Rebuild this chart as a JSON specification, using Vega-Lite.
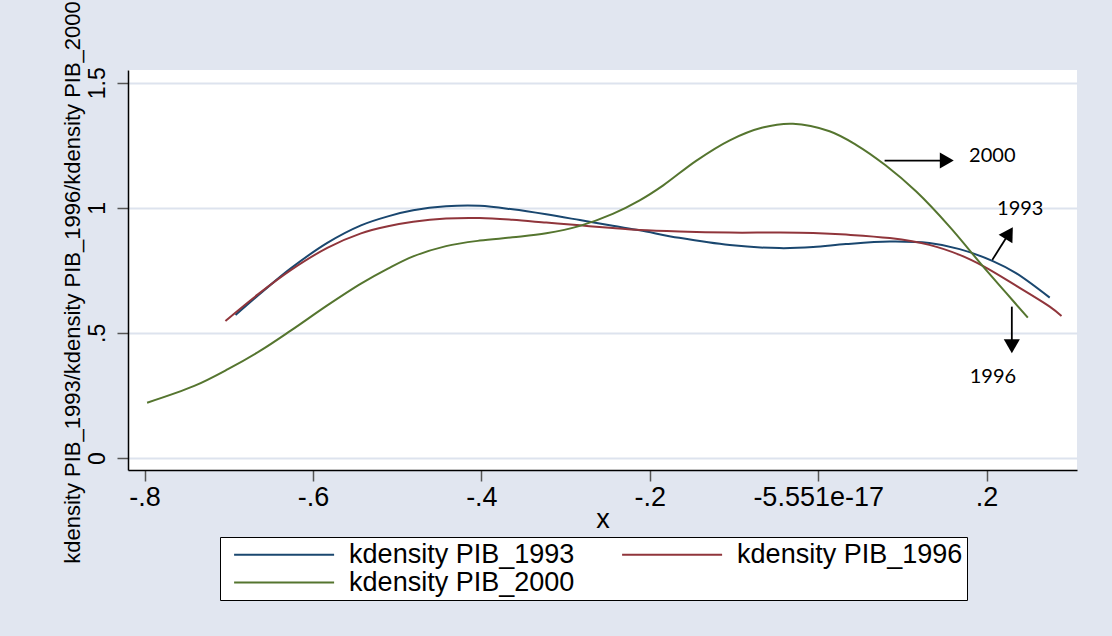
{
  "$schema": "https://vega.github.io/schema/vega-lite/v6.json",
  "width": 949,
  "height": 400,
  "autosize": {"type": "none"},
  "padding": {"left": 128, "top": 70, "right": 35, "bottom": 166},
  "background": "#e1e6f0",
  "config": {
    "view": {"fill": "white", "stroke": null},
    "font": "Liberation Sans",
    "axis": {
      "labelColor": "black",
      "titleColor": "black",
      "titleFontWeight": "normal",
      "domainColor": "black",
      "domainWidth": 1.5,
      "tickColor": "#555555",
      "tickWidth": 1.5,
      "tickSize": 11
    }
  },
  "datasets": {
    "kdensity": [
      {"series": "kdensity PIB_1993", "x": -0.692, "density": 0.572},
      {"series": "kdensity PIB_1993", "x": -0.660, "density": 0.665},
      {"series": "kdensity PIB_1993", "x": -0.626, "density": 0.759},
      {"series": "kdensity PIB_1993", "x": -0.583, "density": 0.860},
      {"series": "kdensity PIB_1993", "x": -0.543, "density": 0.930},
      {"series": "kdensity PIB_1993", "x": -0.511, "density": 0.966},
      {"series": "kdensity PIB_1993", "x": -0.481, "density": 0.990},
      {"series": "kdensity PIB_1993", "x": -0.442, "density": 1.006},
      {"series": "kdensity PIB_1993", "x": -0.402, "density": 1.008},
      {"series": "kdensity PIB_1993", "x": -0.363, "density": 0.994},
      {"series": "kdensity PIB_1993", "x": -0.323, "density": 0.974},
      {"series": "kdensity PIB_1993", "x": -0.283, "density": 0.951},
      {"series": "kdensity PIB_1993", "x": -0.244, "density": 0.928},
      {"series": "kdensity PIB_1993", "x": -0.212, "density": 0.910},
      {"series": "kdensity PIB_1993", "x": -0.165, "density": 0.880},
      {"series": "kdensity PIB_1993", "x": -0.105, "density": 0.851},
      {"series": "kdensity PIB_1993", "x": -0.046, "density": 0.839},
      {"series": "kdensity PIB_1993", "x": -0.006, "density": 0.843},
      {"series": "kdensity PIB_1993", "x": 0.033, "density": 0.855},
      {"series": "kdensity PIB_1993", "x": 0.085, "density": 0.865},
      {"series": "kdensity PIB_1993", "x": 0.132, "density": 0.859},
      {"series": "kdensity PIB_1993", "x": 0.168, "density": 0.835},
      {"series": "kdensity PIB_1993", "x": 0.2075, "density": 0.787},
      {"series": "kdensity PIB_1993", "x": 0.235, "density": 0.739},
      {"series": "kdensity PIB_1993", "x": 0.275, "density": 0.641},
      {"series": "kdensity PIB_1996", "x": -0.704, "density": 0.548},
      {"series": "kdensity PIB_1996", "x": -0.665, "density": 0.655},
      {"series": "kdensity PIB_1996", "x": -0.626, "density": 0.752},
      {"series": "kdensity PIB_1996", "x": -0.583, "density": 0.840},
      {"series": "kdensity PIB_1996", "x": -0.543, "density": 0.898},
      {"series": "kdensity PIB_1996", "x": -0.511, "density": 0.926},
      {"series": "kdensity PIB_1996", "x": -0.481, "density": 0.944},
      {"series": "kdensity PIB_1996", "x": -0.442, "density": 0.957},
      {"series": "kdensity PIB_1996", "x": -0.402, "density": 0.959},
      {"series": "kdensity PIB_1996", "x": -0.363, "density": 0.952},
      {"series": "kdensity PIB_1996", "x": -0.323, "density": 0.941},
      {"series": "kdensity PIB_1996", "x": -0.283, "density": 0.930},
      {"series": "kdensity PIB_1996", "x": -0.244, "density": 0.919},
      {"series": "kdensity PIB_1996", "x": -0.212, "density": 0.911},
      {"series": "kdensity PIB_1996", "x": -0.165, "density": 0.905},
      {"series": "kdensity PIB_1996", "x": -0.105, "density": 0.901},
      {"series": "kdensity PIB_1996", "x": -0.046, "density": 0.901},
      {"series": "kdensity PIB_1996", "x": -0.006, "density": 0.899},
      {"series": "kdensity PIB_1996", "x": 0.033, "density": 0.893},
      {"series": "kdensity PIB_1996", "x": 0.085, "density": 0.879},
      {"series": "kdensity PIB_1996", "x": 0.132, "density": 0.852},
      {"series": "kdensity PIB_1996", "x": 0.168, "density": 0.812},
      {"series": "kdensity PIB_1996", "x": 0.196, "density": 0.767},
      {"series": "kdensity PIB_1996", "x": 0.235, "density": 0.689},
      {"series": "kdensity PIB_1996", "x": 0.275, "density": 0.605},
      {"series": "kdensity PIB_1996", "x": 0.289, "density": 0.568},
      {"series": "kdensity PIB_2000", "x": -0.797, "density": 0.221},
      {"series": "kdensity PIB_2000", "x": -0.741, "density": 0.288},
      {"series": "kdensity PIB_2000", "x": -0.701, "density": 0.355},
      {"series": "kdensity PIB_2000", "x": -0.662, "density": 0.430},
      {"series": "kdensity PIB_2000", "x": -0.626, "density": 0.510},
      {"series": "kdensity PIB_2000", "x": -0.583, "density": 0.610},
      {"series": "kdensity PIB_2000", "x": -0.543, "density": 0.697},
      {"series": "kdensity PIB_2000", "x": -0.511, "density": 0.757},
      {"series": "kdensity PIB_2000", "x": -0.481, "density": 0.806},
      {"series": "kdensity PIB_2000", "x": -0.442, "density": 0.847},
      {"series": "kdensity PIB_2000", "x": -0.402, "density": 0.869},
      {"series": "kdensity PIB_2000", "x": -0.363, "density": 0.882},
      {"series": "kdensity PIB_2000", "x": -0.323, "density": 0.898},
      {"series": "kdensity PIB_2000", "x": -0.283, "density": 0.928},
      {"series": "kdensity PIB_2000", "x": -0.244, "density": 0.976},
      {"series": "kdensity PIB_2000", "x": -0.212, "density": 1.030},
      {"series": "kdensity PIB_2000", "x": -0.184, "density": 1.090},
      {"series": "kdensity PIB_2000", "x": -0.145, "density": 1.188},
      {"series": "kdensity PIB_2000", "x": -0.105, "density": 1.270},
      {"series": "kdensity PIB_2000", "x": -0.066, "density": 1.321},
      {"series": "kdensity PIB_2000", "x": -0.030, "density": 1.336},
      {"series": "kdensity PIB_2000", "x": 0.0135, "density": 1.306},
      {"series": "kdensity PIB_2000", "x": 0.045, "density": 1.252},
      {"series": "kdensity PIB_2000", "x": 0.080, "density": 1.170},
      {"series": "kdensity PIB_2000", "x": 0.1165, "density": 1.065},
      {"series": "kdensity PIB_2000", "x": 0.156, "density": 0.925},
      {"series": "kdensity PIB_2000", "x": 0.196, "density": 0.765},
      {"series": "kdensity PIB_2000", "x": 0.2235, "density": 0.659},
      {"series": "kdensity PIB_2000", "x": 0.249, "density": 0.561}
    ],
    "arrows": [
      {"label": "2000", "x": 0.0789, "density": 1.189, "x_end": 0.150, "density_end": 1.189, "heading": 90},
      {"label": "1993", "x": 0.2068, "density": 0.792, "x_end": 0.2254, "density_end": 0.891, "heading": 31.5},
      {"label": "1996", "x": 0.230, "density": 0.605, "x_end": 0.230, "density_end": 0.456, "heading": 180}
    ],
    "notes": [
      {"label": "2000", "x": 0.2068, "density": 1.209},
      {"label": "1993", "x": 0.240, "density": 0.995},
      {"label": "1996", "x": 0.2075, "density": 0.325}
    ]
  },
  "layer": [
    {
      "data": {"name": "kdensity"},
      "mark": {"type": "line", "strokeWidth": 2, "interpolate": "catmull-rom"},
      "encoding": {
        "x": {
          "field": "x",
          "type": "quantitative",
          "title": "x",
          "scale": {"domain": [-0.8197, 0.3074], "nice": false, "zero": false},
          "axis": {
            "values": [-0.8, -0.6, -0.4, -0.2, 0, 0.2],
            "labelExpr": "abs(datum.value) < 1e-9 ? '-5.551e-17' : (datum.value < 0 ? '-' : '') + replace(format(abs(datum.value), '.1f'), '0.', '.')",
            "labelFontSize": 27,
            "labelPadding": 3,
            "labelFlush": false,
            "titleFontSize": 27,
            "titlePadding": -4,
            "grid": false
          }
        },
        "y": {
          "field": "density",
          "type": "quantitative",
          "title": "kdensity PIB_1993/kdensity PIB_1996/kdensity PIB_2000",
          "scale": {"domain": [-0.048, 1.551], "nice": false, "zero": false},
          "axis": {
            "values": [0, 0.5, 1, 1.5],
            "labelExpr": "replace(format(datum.value, '~g'), '0.', '.')",
            "labelAngle": 270,
            "labelFontSize": 23,
            "labelPadding": 8,
            "labelFlush": false,
            "titleFontSize": 22,
            "titlePadding": 2,
            "titleY": 212,
            "grid": true,
            "gridColor": "#dde3ee",
            "gridWidth": 2
          }
        },
        "color": {
          "field": "series",
          "type": "nominal",
          "scale": {
            "domain": ["kdensity PIB_1993", "kdensity PIB_1996", "kdensity PIB_2000"],
            "range": ["#1a476f", "#90353b", "#55752f"]
          },
          "legend": {
            "title": null,
            "orient": "none",
            "direction": "horizontal",
            "legendX": 92,
            "legendY": 467,
            "columns": 2,
            "symbolType": "M-5,0H5",
            "symbolSize": 400,
            "symbolStrokeWidth": 2,
            "symbolOffset": 46.6,
            "labelOffset": 51.5,
            "labelFontSize": 27,
            "labelColor": "black",
            "labelLimit": 400,
            "columnPadding": 37,
            "rowPadding": 0,
            "padding": 4,
            "strokeColor": "black",
            "fillColor": "white",
            "cornerRadius": 0
          }
        }
      }
    },
    {
      "data": {"name": "arrows"},
      "mark": {"type": "rule", "color": "black", "strokeWidth": 1.8},
      "encoding": {
        "x": {"field": "x", "type": "quantitative", "title": "x"},
        "y": {"field": "density", "type": "quantitative", "title": "kdensity PIB_1993/kdensity PIB_1996/kdensity PIB_2000"},
        "x2": {"field": "x_end"},
        "y2": {"field": "density_end"}
      }
    },
    {
      "data": {"name": "arrows"},
      "mark": {"type": "point", "shape": "triangle", "filled": true, "color": "black", "opacity": 1, "size": 260},
      "encoding": {
        "x": {"field": "x_end", "type": "quantitative", "title": "x"},
        "y": {"field": "density_end", "type": "quantitative", "title": "kdensity PIB_1993/kdensity PIB_1996/kdensity PIB_2000"},
        "angle": {"field": "heading", "type": "quantitative", "scale": null}
      }
    },
    {
      "data": {"name": "notes"},
      "mark": {"type": "text", "font": "Lato", "fontSize": 20, "color": "black", "align": "center", "baseline": "middle"},
      "encoding": {
        "x": {"field": "x", "type": "quantitative", "title": "x"},
        "y": {"field": "density", "type": "quantitative", "title": "kdensity PIB_1993/kdensity PIB_1996/kdensity PIB_2000"},
        "text": {"field": "label"}
      }
    }
  ]
}
